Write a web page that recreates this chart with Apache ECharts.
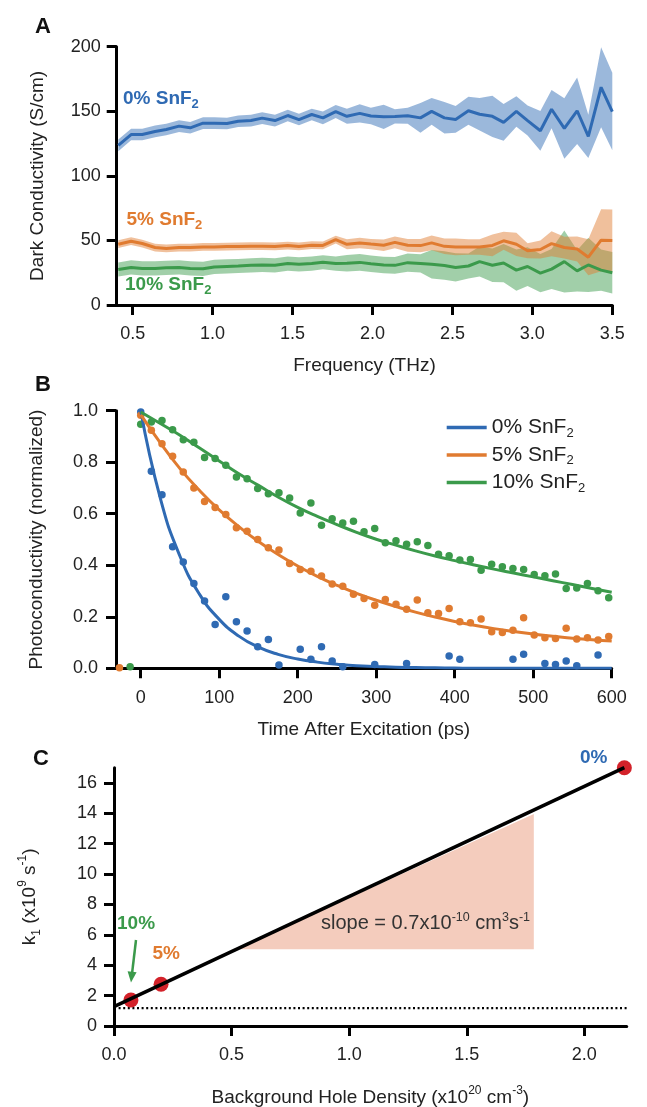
<!DOCTYPE html>
<html><head><meta charset="utf-8">
<script src="https://cdn.jsdelivr.net/npm/echarts@6/dist/echarts.min.js"></script>
<style>html,body{margin:0;padding:0;background:#fff}#c{width:647px;height:1107px}</style>
</head><body><div id="c"></div>
<script>
// ---------- Panel A: dark conductivity vs frequency ----------
const freqTHz = [0.41,0.49,0.56,0.64,0.71,0.79,0.86,0.94,1.01,1.09,1.16,1.24,1.31,1.39,1.47,1.54,1.62,1.69,1.77,1.84,1.92,1.99,2.07,2.14,2.22,2.30,2.37,2.45,2.52,2.60,2.67,2.75,2.82,2.90,2.97,3.05,3.12,3.20,3.28,3.35,3.43,3.50];
const cond0 = [123.6,132,132,134.4,135.9,138.5,137.2,140.8,140.8,140.5,142.3,142.8,144.7,142.8,146.7,143.6,147.5,144.9,149.8,146.1,148.4,146.3,145.7,146,146.6,144.9,149.9,144.9,143.7,150.4,147.7,146.1,141.4,149.9,142.8,134.9,151.6,136.7,150.4,130.6,168.6,149.8];
const cond0Err = [4.5,4.5,4.5,4.5,4.5,4.5,4.5,4.5,4.5,4.5,4.5,4.5,4.5,4.5,4.5,4.5,4.5,5,5,5.8,7,6.4,9.4,5.5,6.2,11.6,10.3,12.2,10.3,10.9,12.6,16,14.2,11.8,11.6,15.4,14.8,23.4,25.7,16.7,31,30];
const cond5 = [47.1,49.4,47.6,44.5,43.8,44.5,44.5,45,45,45.2,45.3,45.5,45.5,45.3,46,45.3,46.3,46.1,50.7,47,48,47.2,46.3,48.5,46.2,46,48.1,45.4,45,44.9,44.9,46.1,49.7,47,42,43,47.5,44.5,43.4,37,50.2,50];
const cond5Err = [3,3,3,3,3,3,3,3,3,3,3,3,3,3,3,3,3,3,3,3.9,4,4,4.5,4.5,5,5.1,5.8,6,6.4,6,6,8.4,7,9,5.8,7,9.7,8.4,9.7,14,24,24];
const cond10 = [27.5,29.1,28.3,28.3,28.8,29.1,28.3,28,29.5,29.9,30.2,30.7,31,30.7,32.1,31.5,32.1,33.1,32.1,32.4,33,31.9,30.9,30.7,32.8,32.2,31.6,30.6,29.1,30.2,33.6,30.8,32.5,27,29.8,24.7,27.8,33.6,26.4,31,27,25];
const cond10Err = [5.5,5.5,5.5,5.5,5.5,5.5,5.5,5.5,5.5,5.5,5.5,5.5,5.5,5.5,5.5,5.5,5.5,5.5,5.5,6.4,6.4,6.4,6.4,6.5,7,7,11,11,11,9.7,11.6,13,14.8,16,15,14.8,15.5,24,16,21,16,16];
const freqTicks = [0.5,1.0,1.5,2.0,2.5,3.0,3.5];

// ---------- Panel B: photoconductivity decay ----------
const time0 = [0,13.5,27.1,40.6,54.2,67.7,81.3,94.8,108.4,121.9,135.5,149.0,162.6,176.1,203.2,216.8,230.3,243.9,257.4,298.1,338.7,392.9,406.5,474.2,487.8,514.9,528.4,542.0,555.5,582.6];
const pc0 = [0.995,0.765,0.674,0.472,0.413,0.329,0.261,0.170,0.278,0.181,0.145,0.084,0.112,0.013,0.074,0.035,0.084,0.028,0.006,0.015,0.019,0.048,0.035,0.035,0.055,0.019,0.015,0.028,0.010,0.052];
const time5 = [-27.1,0,13.5,27.1,40.6,54.2,67.7,81.3,94.8,108.4,121.9,135.5,149.0,162.6,176.1,189.7,203.2,216.8,230.3,243.9,257.4,271.0,284.5,298.1,311.6,325.2,338.7,352.3,365.8,379.4,392.9,406.5,420.0,433.6,447.1,460.7,474.2,487.8,501.3,514.9,528.4,542.0,555.5,569.1,582.6,596.2];
const pc5 = [0.002,0.982,0.924,0.872,0.823,0.762,0.700,0.648,0.624,0.597,0.546,0.532,0.500,0.468,0.459,0.407,0.384,0.377,0.358,0.327,0.319,0.287,0.271,0.245,0.267,0.249,0.229,0.265,0.216,0.213,0.232,0.181,0.177,0.191,0.142,0.139,0.148,0.196,0.129,0.119,0.116,0.155,0.114,0.119,0.110,0.123];
const time10 = [-13.5,0,13.5,27.1,40.6,54.2,67.7,81.3,94.8,108.4,121.9,135.5,149.0,162.6,176.1,189.7,203.2,216.8,230.3,243.9,257.4,271.0,284.5,298.1,311.6,325.2,338.7,352.3,365.8,379.4,392.9,406.5,420.0,433.6,447.1,460.7,474.2,487.8,501.3,514.9,528.4,542.0,555.5,569.1,582.6,596.2];
const pc10 = [0.006,0.947,0.956,0.962,0.926,0.887,0.878,0.818,0.814,0.788,0.743,0.736,0.698,0.678,0.681,0.661,0.603,0.642,0.555,0.581,0.564,0.571,0.530,0.543,0.487,0.495,0.482,0.491,0.477,0.443,0.437,0.420,0.422,0.381,0.404,0.394,0.387,0.384,0.364,0.359,0.366,0.310,0.312,0.329,0.301,0.274];
const fitT = [0,25,50,75,100,125,150,175,200,225,250,275,300,325,350,375,400,425,450,475,500,525,550,575,600];
const fit0Y = [1.0,0.66,0.435,0.287,0.19,0.125,0.082,0.054,0.036,0.024,0.016,0.010,0.007,0.004,0.003,0.002,0.001,0.0,0.0,0.0,0.0,0.0,0.0,0.0,0.0];
const fit5Y = [0.985,0.875,0.775,0.69,0.615,0.55,0.492,0.442,0.397,0.357,0.322,0.291,0.264,0.240,0.218,0.199,0.182,0.167,0.154,0.143,0.133,0.124,0.117,0.111,0.106];
const fit10Y = [0.995,0.95,0.905,0.855,0.805,0.755,0.71,0.665,0.625,0.59,0.558,0.528,0.501,0.478,0.456,0.436,0.418,0.401,0.385,0.37,0.355,0.34,0.325,0.31,0.295];
const timeTicks = [0,100,200,300,400,500,600];
const seriesNames = ['0% SnF2','5% SnF2','10% SnF2'];

// ---------- Panel C: k1 vs background hole density ----------
const holeDensity = [0.072,0.20,2.17];
const k1 = [1.71,2.75,17.0];
const k1FitX = [0,2.17];
const k1FitY = [1.27,17.0];
const baselineX = [0,2.18];
const baselineY = [1.17,1.17];
const slopeTriX = [0.52,1.785,1.785];
const slopeTriY = [5.05,5.05,13.95];
const densTicks = [0,0.5,1.0,1.5,2.0];
const k1Ticks = [0,2,4,6,8,10,12,14,16];

const BLUE='#2f6ab3', ORANGE='#e07b30', GREEN='#3b9a4b', RED='#d3222a';
const FONT='Liberation Sans, Arial, Helvetica, sans-serif';
const TXT='#222';

function bandSeries(xs, ys, err, fill, gi){
  return {type:'custom', xAxisIndex:gi, yAxisIndex:gi, clip:true, z:1, silent:true,
    data:[[xs[0], ys[0]]],
    renderItem:function(params, api){
      const pts=[];
      for(let i=0;i<xs.length;i++) pts.push(api.coord([xs[i], ys[i]+err[i]]));
      for(let i=xs.length-1;i>=0;i--) pts.push(api.coord([xs[i], ys[i]-err[i]]));
      return {type:'polygon', shape:{points:pts}, style:{fill:fill}};
    }};
}
function pairs(xs, ys){ return xs.map((x,i)=>[x, ys[i]]); }

const axisLineS = {show:true, onZero:false, lineStyle:{color:'#000', width:3}};
const tickS = (vals)=>{ const t={show:true, length:10, inside:false, lineStyle:{color:'#000', width:3}}; if(vals) t.customValues=vals; return t; };
const nameS = {fontSize:19, color:TXT, fontFamily:FONT,
  rich:{n:{fontSize:19, color:TXT, fontFamily:FONT, lineHeight:26},
        sup:{fontSize:12, color:TXT, fontFamily:FONT, lineHeight:12, verticalAlign:'top'},
        sub:{fontSize:12, color:TXT, fontFamily:FONT, lineHeight:12, verticalAlign:'bottom'}}};

function xAx(gi, min, max, ticks, fmt, name, gap, margin){
  return {type:'value', gridIndex:gi, min:min, max:max, axisLine:axisLineS, axisTick:tickS(ticks),
    axisLabel:{customValues:ticks, formatter:fmt, fontSize:18, color:TXT, fontFamily:FONT, margin:margin},
    splitLine:{show:false}, name:name, nameLocation:'middle', nameGap:gap, nameTextStyle:nameS, nameMoveOverlap:false};
}
function yAx(gi, min, max, extra, name, gap, margin){
  const a = {type:'value', gridIndex:gi, min:min, max:max, axisLine:axisLineS, axisTick:tickS(extra.ticks),
    axisLabel:{fontSize:18, color:TXT, fontFamily:FONT, margin:margin, formatter:extra.fmt},
    splitLine:{show:false}, name:name, nameLocation:'middle', nameGap:gap, nameTextStyle:nameS, nameMoveOverlap:false};
  if(extra.ticks) a.axisLabel.customValues = extra.ticks;
  if(extra.interval) a.interval = extra.interval;
  return a;
}
const f1 = v=>v.toFixed(1);

const labRich = (c)=>({a:{fontSize:19, fontWeight:'bold', fill:c, fontFamily:FONT, lineHeight:24},
                      b:{fontSize:13, fontWeight:'bold', fill:c, fontFamily:FONT, lineHeight:13, verticalAlign:'bottom'}});

const option = {
  animation:false,
  backgroundColor:'#fff',
  textStyle:{fontFamily:FONT},
  title:{text:'{n|slope = 0.7x10}{s|-10}{n| cm}{s|3}{n|s}{s|-1}', left:321, top:911, padding:0,
    textStyle:{fontSize:20, color:'#333', fontWeight:'normal', fontFamily:FONT,
      rich:{n:{fontSize:20, color:'#333', fontFamily:FONT, lineHeight:25},
            s:{fontSize:12.5, color:'#333', fontFamily:FONT, lineHeight:12, verticalAlign:'top'}}}},
  grid:[
    {left:116.7, top:46.7, width:495.6, height:258.3, outerBoundsMode:'none'},
    {left:116, top:410.7, width:495.7, height:257.6, outerBoundsMode:'none'},
    {left:114, top:767.7, width:512.7, height:258.3, outerBoundsMode:'none'}
  ],
  xAxis:[
    xAx(0, 0.4, 3.5, freqTicks, f1, 'Frequency (THz)', 51, 20),
    xAx(1, -31.5, 600, timeTicks, v=>String(v), 'Time After Excitation (ps)', 52, 21),
    xAx(2, 0, 2.18, densTicks, f1, '{n|Background Hole Density (x10}{sup|20}{n| cm}{sup|-3}{n|)}', 59, 20)
  ],
  yAxis:[
    yAx(0, 0, 200, {interval:50}, 'Dark Conductivity (S/cm)', 69, 16),
    yAx(1, 0, 1, {interval:0.2, fmt:f1}, 'Photoconductivity (normalized)', 70, 18),
    yAx(2, 0, 17, {ticks:k1Ticks}, '{n|k}{sub|1}{n| (x10}{sup|9}{n| s}{sup|-1}{n|)}', 71, 17)
  ],
  legend:{data:seriesNames, orient:'vertical', left:441.7, top:412, icon:'rect', itemWidth:40, itemHeight:3.5, itemGap:5,
    formatter:n=>'{n|'+n.replace('SnF2','SnF')+'}{s|2}',
    textStyle:{color:TXT, fontFamily:FONT, fontSize:21,
      rich:{n:{fontSize:21, color:TXT, fontFamily:FONT, lineHeight:24},
            s:{fontSize:13, color:TXT, fontFamily:FONT, lineHeight:13, verticalAlign:'bottom'}}},
    selectedMode:false},
  series:[
    // Panel A
    bandSeries(freqTHz, cond10, cond10Err, 'rgba(59,154,75,0.48)', 0),
    bandSeries(freqTHz, cond5, cond5Err, 'rgba(224,123,48,0.48)', 0),
    bandSeries(freqTHz, cond0, cond0Err, 'rgba(47,106,179,0.48)', 0),
    {type:'line', name:'A10', xAxisIndex:0, yAxisIndex:0, data:pairs(freqTHz, cond10), showSymbol:false, z:3, lineStyle:{color:GREEN, width:3}, itemStyle:{color:GREEN}},
    {type:'line', name:'A5', xAxisIndex:0, yAxisIndex:0, data:pairs(freqTHz, cond5), showSymbol:false, z:3, lineStyle:{color:ORANGE, width:3}, itemStyle:{color:ORANGE}},
    {type:'line', name:'A0', xAxisIndex:0, yAxisIndex:0, data:pairs(freqTHz, cond0), showSymbol:false, z:3, lineStyle:{color:BLUE, width:3}, itemStyle:{color:BLUE}},
    // Panel B scatter
    {type:'scatter', name:'B0pts', xAxisIndex:1, yAxisIndex:1, data:pairs(time0, pc0), symbolSize:7.5, clip:false, itemStyle:{color:BLUE, opacity:1}, z:2},
    {type:'scatter', name:'B5pts', xAxisIndex:1, yAxisIndex:1, data:pairs(time5, pc5), symbolSize:7.5, clip:false, itemStyle:{color:ORANGE, opacity:1}, z:2},
    {type:'scatter', name:'B10pts', xAxisIndex:1, yAxisIndex:1, data:pairs(time10, pc10), symbolSize:7.5, clip:false, itemStyle:{color:GREEN, opacity:1}, z:2},
    // Panel B fits
    {type:'line', name:seriesNames[0], xAxisIndex:1, yAxisIndex:1, data:pairs(fitT, fit0Y), smooth:0.5, showSymbol:false, z:3, lineStyle:{color:BLUE, width:3}, itemStyle:{color:BLUE}},
    {type:'line', name:seriesNames[1], xAxisIndex:1, yAxisIndex:1, data:pairs(fitT, fit5Y), smooth:0.5, showSymbol:false, z:3, lineStyle:{color:ORANGE, width:3}, itemStyle:{color:ORANGE}},
    {type:'line', name:seriesNames[2], xAxisIndex:1, yAxisIndex:1, data:pairs(fitT, fit10Y), smooth:0.5, showSymbol:false, z:3, lineStyle:{color:GREEN, width:3}, itemStyle:{color:GREEN}},
    // Panel C
    {type:'custom', xAxisIndex:2, yAxisIndex:2, z:1, silent:true, data:[[slopeTriX[0], slopeTriY[0]]],
      renderItem:function(params, api){
        const pts = slopeTriX.map((x,i)=>api.coord([x, slopeTriY[i]]));
        return {type:'polygon', shape:{points:pts}, style:{fill:'#f4ccbd'}};
      }},
    {type:'line', name:'Cbase', xAxisIndex:2, yAxisIndex:2, data:pairs(baselineX, baselineY), showSymbol:false, z:2, lineStyle:{color:'#000', width:2.2, type:[2,2.6]}},
    {type:'scatter', name:'Cpts', xAxisIndex:2, yAxisIndex:2, data:pairs(holeDensity, k1), symbolSize:15, clip:false, itemStyle:{color:RED, opacity:1}, z:3},
    {type:'line', name:'Cfit', xAxisIndex:2, yAxisIndex:2, data:pairs(k1FitX, k1FitY), showSymbol:false, z:4, lineStyle:{color:'#000', width:3.5}}
  ],
  graphic:[
    {type:'text', left:35, top:16, style:{text:'A', fontSize:22, fontWeight:'bold', fill:'#111', fontFamily:FONT}},
    {type:'text', left:35, top:374, style:{text:'B', fontSize:22, fontWeight:'bold', fill:'#111', fontFamily:FONT}},
    {type:'text', left:33, top:748, style:{text:'C', fontSize:22, fontWeight:'bold', fill:'#111', fontFamily:FONT}},
    {type:'text', left:123, top:89, style:{text:'{a|0% SnF}{b|2}', rich:labRich(BLUE)}},
    {type:'text', left:126.5, top:210.5, style:{text:'{a|5% SnF}{b|2}', rich:labRich(ORANGE)}},
    {type:'text', left:125, top:275, style:{text:'{a|10% SnF}{b|2}', rich:labRich(GREEN)}},
    {type:'text', left:117, top:914.5, style:{text:'10%', fontSize:19, fontWeight:'bold', fill:GREEN, fontFamily:FONT}},
    {type:'text', left:152.5, top:944, style:{text:'5%', fontSize:19, fontWeight:'bold', fill:ORANGE, fontFamily:FONT}},
    {type:'text', left:580, top:748, style:{text:'0%', fontSize:19, fontWeight:'bold', fill:BLUE, fontFamily:FONT}},
    {type:'line', shape:{x1:136, y1:940, x2:132.1, y2:973}, style:{stroke:GREEN, lineWidth:2.5}},
    {type:'polygon', shape:{points:[[131,982.5],[136.6,972.3],[127.6,971.3]]}, style:{fill:GREEN}}
  ]
};
const chart = echarts.init(document.getElementById('c'), null, {renderer:'canvas'});
chart.setOption(option);
</script></body></html>
